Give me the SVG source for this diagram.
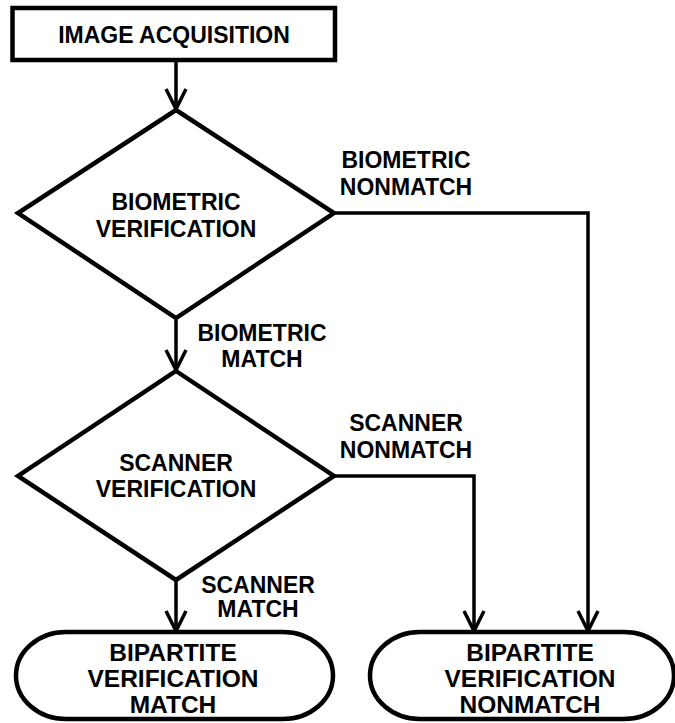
<svg xmlns="http://www.w3.org/2000/svg" width="675" height="723" viewBox="0 0 675 723">
<style>
.shape{fill:#fff;stroke:#000;stroke-width:4.5;stroke-linejoin:miter}
.conn{fill:none;stroke:#000;stroke-width:3.5;stroke-linejoin:miter}
text{font-family:"Liberation Sans",Arial,Helvetica,sans-serif;font-weight:bold;font-size:23px;fill:#000;text-anchor:middle}
.big{font-size:24.5px}
</style>
<defs>
<marker id="arr" viewBox="-24 -14 28 28" refX="0" refY="0" markerWidth="28" markerHeight="28" markerUnits="userSpaceOnUse" orient="auto">
<path d="M-20,-10 L0,0 L-20,10" fill="none" stroke="#000" stroke-width="3.5"/>
</marker>
</defs>
<rect width="675" height="723" fill="#fff"/>
<g id="connectors">
<path class="conn" d="M176,60 L176,109" marker-end="url(#arr)"/>
<path class="conn" d="M176,318 L176,370" marker-end="url(#arr)"/>
<path class="conn" d="M176,580 L176,631" marker-end="url(#arr)"/>
<path class="conn" d="M334,213 L588,213 L588,631" marker-end="url(#arr)"/>
<path class="conn" d="M334,476 L474,476 L474,631" marker-end="url(#arr)"/>
<g id="label-biometric-nonmatch"><text x="406" y="168">BIOMETRIC</text><text x="406" y="195">NONMATCH</text></g>
<g id="label-biometric-match"><text x="262" y="341">BIOMETRIC</text><text x="262" y="367">MATCH</text></g>
<g id="label-scanner-nonmatch"><text x="406" y="431">SCANNER</text><text x="406" y="458">NONMATCH</text></g>
<g id="label-scanner-match"><text x="258" y="593">SCANNER</text><text x="258" y="617">MATCH</text></g>
</g>
<g id="image-acquisition">
<rect class="shape" x="12.5" y="8" width="322.5" height="52"/>
<text x="174" y="43">IMAGE ACQUISITION</text>
</g>
<g id="biometric-verification">
<polygon class="shape" points="176,110 334,213 176,318 18,213"/>
<text x="176" y="210">BIOMETRIC</text>
<text x="176" y="237">VERIFICATION</text>
</g>
<g id="scanner-verification">
<polygon class="shape" points="176,371 334,476 176,580 18,476"/>
<text x="176" y="471">SCANNER</text>
<text x="176" y="497">VERIFICATION</text>
</g>
<g id="bipartite-match">
<rect class="shape" x="16" y="632" width="317" height="87" rx="50" ry="43.5"/>
<text class="big" x="173" y="661">BIPARTITE</text>
<text class="big" x="173" y="687">VERIFICATION</text>
<text class="big" x="173" y="713">MATCH</text>
</g>
<g id="bipartite-nonmatch">
<rect class="shape" x="370" y="632" width="304" height="87" rx="50" ry="43.5"/>
<text class="big" x="530" y="661">BIPARTITE</text>
<text class="big" x="530" y="687">VERIFICATION</text>
<text class="big" x="530" y="713">NONMATCH</text>
</g>
</svg>
